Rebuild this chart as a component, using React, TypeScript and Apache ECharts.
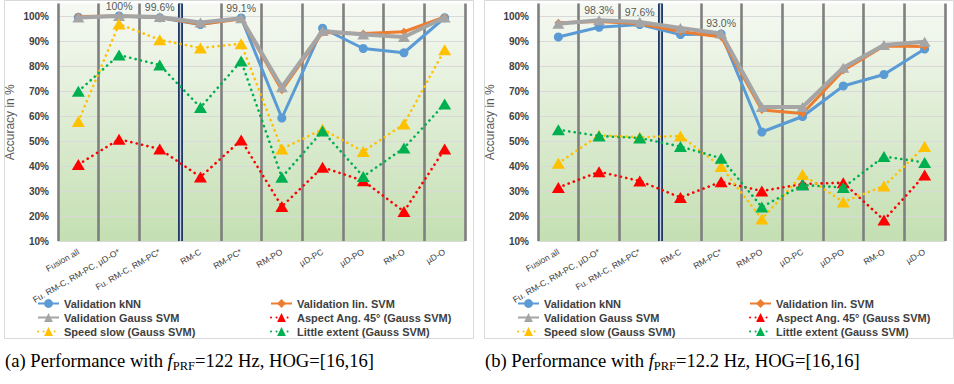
import React, { useEffect, useRef } from 'react';
import * as echarts from 'echarts';

const categories = ['Fusion all', 'Fu. RM-C, RM-PC, µD-O*', 'Fu. RM-C, RM-PC*', 'RM-C', 'RM-PC*', 'RM-PO', 'µD-PC', 'µD-PO', 'RM-O', 'µD-O'];
const yTicks = [10, 20, 30, 40, 50, 60, 70, 80, 90, 100];

const seriesNames = ['Validation kNN', 'Validation lin. SVM', 'Validation Gauss SVM', 'Aspect Ang. 45° (Gauss SVM)', 'Speed slow (Gauss SVM)', 'Little extent (Gauss SVM)'];

// Panel (a): f_PRF = 122 Hz
const knnA = [99.5, 100, 99.3, 96.6, 99.2, 59.2, 95.1, 87.0, 85.3, 99.3];
const linA = [99.8, 100, 99.5, 96.7, 98.8, 70.3, 93.4, 93.0, 93.7, 99.6];
const gaussA = [99.4, 100, 99.6, 97.4, 99.1, 71.5, 94.0, 92.6, 91.6, 99.4];
const aspectA = [40.6, 50.7, 46.8, 35.6, 50.4, 23.8, 39.5, 34.1, 21.8, 46.8];
const speedA = [57.8, 96.8, 90.5, 87.2, 88.9, 46.8, 54.7, 45.8, 56.8, 86.5];
const littleA = [69.9, 84.4, 80.4, 63.4, 82.0, 35.5, 54.0, 35.8, 47.2, 64.8];
const labelIdxA = [1, 2, 4];
const labelTextA = ['100%', '99.6%', '99.1%'];

// Panel (b): f_PRF = 12.2 Hz
const knnB = [91.6, 95.5, 96.6, 92.6, 92.8, 53.6, 59.8, 72.0, 76.6, 86.8];
const linB = [97.3, 97.8, 96.9, 93.8, 91.6, 62.4, 61.0, 78.2, 88.0, 87.8];
const gaussB = [96.9, 98.3, 97.6, 95.2, 93.0, 63.6, 63.6, 79.3, 88.4, 89.7];
const aspectB = [31.4, 37.7, 34.0, 27.4, 33.7, 30.0, 32.8, 33.3, 18.4, 36.4];
const speedB = [41.1, 52.3, 51.5, 52.0, 39.8, 18.8, 36.6, 25.6, 32.0, 47.8];
const littleB = [54.5, 52.0, 51.2, 47.8, 43.1, 23.6, 32.4, 31.4, 43.8, 41.4];
const labelIdxB = [1, 2, 4];
const labelTextB = ['98.3%', '97.6%', '93.0%'];

const captionA = ['(a) Performance with ', 'f', 'PRF', '=122 Hz, HOG=[16,16]'];
const captionB = ['(b) Performance with ', 'f', 'PRF', '=12.2 Hz, HOG=[16,16]'];

const FONT = 'Liberation Sans';

export default function App() {
  const ref = useRef<HTMLDivElement>(null);
  useEffect(() => {
    const chart = echarts.init(ref.current!, null, { renderer: 'svg' });

    const panels = [
      { left: 58, frameX: 4.5, legendL: 37, legendR: 270, data: [knnA, linA, gaussA, aspectA, speedA, littleA], lIdx: labelIdxA, lTxt: labelTextA, cap: captionA, capX: 5 },
      { left: 538, frameX: 484.5, legendL: 517, legendR: 749, data: [knnB, linB, gaussB, aspectB, speedB, littleB], lIdx: labelIdxB, lTxt: labelTextB, cap: captionB, capX: 485 },
    ];

    const grids: any[] = [];
    const xAxes: any[] = [];
    const yAxes: any[] = [];
    const series: any[] = [];
    const legends: any[] = [];
    const titles: any[] = [];
    const graphics: any[] = [];

    const colors = ['#5b9bd5', '#ed7d31', '#a5a5a5', '#ff0000', '#ffc000', '#00b050'];
    const grayLines = Array(11).fill('#7f7f7f');
    const navyColors = Array(11).fill('rgba(0,0,0,0)');
    navyColors[3] = '#1f3864';
    const innerColors = Array(11).fill('rgba(0,0,0,0)');
    innerColors[3] = '#c9d3e0';
    const hColors = Array(11).fill('#d9d9d9');
    hColors[10] = 'rgba(0,0,0,0)';

    const rich = {
      n: { fontFamily: 'Liberation Serif', fontSize: 18.6, fontWeight: 'normal', color: '#000', lineHeight: 24, verticalAlign: 'middle' },
      i: { fontFamily: 'Liberation Serif', fontSize: 18.6, fontWeight: 'normal', fontStyle: 'italic', color: '#000', lineHeight: 24, verticalAlign: 'middle' },
      s: { fontFamily: 'Liberation Serif', fontSize: 12.5, fontWeight: 'normal', color: '#000', lineHeight: 24, verticalAlign: 'bottom' },
    };

    panels.forEach((p, pi) => {
      grids.push({
        left: p.left, width: 407, top: 3.5, bottom: 143,
        show: true, borderWidth: 0,
        backgroundColor: new echarts.graphic.LinearGradient(0, 0, 0, 1, [
          { offset: 0, color: '#f6f9f3' },
          { offset: 1, color: '#c4dfb2' },
        ]),
        outerBoundsMode: 'none',
        containLabel: false,
      });
      xAxes.push({
        type: 'category', gridIndex: pi, data: categories, boundaryGap: true,
        axisLine: { show: true, lineStyle: { color: '#d9d9d9', width: 1 } },
        axisTick: { show: false },
        axisLabel: { interval: 0, rotate: 30, fontSize: 8.6, color: '#404040', margin: 10, fontFamily: FONT },
        splitLine: { show: true, lineStyle: { color: grayLines, width: 2.6 } },
      });
      xAxes.push({
        type: 'value', gridIndex: pi, min: 0, max: 10, interval: 1, position: 'top',
        axisLine: { show: false }, axisTick: { show: false }, axisLabel: { show: false },
        splitLine: { show: true, lineStyle: { color: navyColors, width: 5 } },
      });
      xAxes.push({
        type: 'value', gridIndex: pi, min: 0, max: 10, interval: 1, position: 'top',
        axisLine: { show: false }, axisTick: { show: false }, axisLabel: { show: false },
        splitLine: { show: true, lineStyle: { color: innerColors, width: 1.4 } },
      });
      yAxes.push({
        type: 'value', gridIndex: pi, min: yTicks[0], max: 105, interval: 10,
        name: 'Accuracy in %', nameLocation: 'middle', nameGap: 42,
        nameTextStyle: { fontSize: 12, color: '#595959', fontFamily: FONT },
        axisLine: { show: false }, axisTick: { show: false },
        axisLabel: {
          fontSize: 10, fontWeight: 'bold', color: '#404040', margin: 9, fontFamily: FONT,
          formatter: (v: number) => (yTicks.includes(v) ? v + '%' : ''),
        },
        splitLine: { show: true, lineStyle: { color: hColors, width: 1 } },
      });

      p.data.forEach((vals, si) => {
        const common: any = {
          type: 'line', name: seriesNames[si], xAxisIndex: pi * 3, yAxisIndex: pi,
          color: colors[si],
          itemStyle: { color: colors[si] },
          showSymbol: true,
          z: 2 + si,
        };
        if (si === 0) {
          Object.assign(common, { symbol: 'circle', symbolSize: 9, lineStyle: { width: 3, color: colors[si] } });
        } else if (si === 1) {
          Object.assign(common, { symbol: 'diamond', symbolSize: 8, lineStyle: { width: 3, color: colors[si] } });
        } else if (si === 2) {
          Object.assign(common, { symbol: 'triangle', symbolSize: [12, 10], lineStyle: { width: 4, color: colors[si] } });
        } else {
          Object.assign(common, { symbol: 'triangle', symbolSize: [13, 11], lineStyle: { width: 2.6, color: colors[si], type: [0.1, 5.4], cap: 'round' } });
        }
        let data: any[] = vals;
        if (si === 2) {
          data = vals.map((v, i) => {
            const k = p.lIdx.indexOf(i);
            if (k < 0) return v;
            return {
              value: v,
              label: {
                show: true, position: 'top', distance: 0, formatter: p.lTxt[k],
                fontSize: 10.5, lineHeight: 11, color: '#595959', fontFamily: FONT,
              },
            };
          });
        }
        series.push({ ...common, data });
      });

      const legendCommon = {
        orient: 'vertical', top: 298, itemWidth: 21, itemHeight: 11, itemGap: 3,
        padding: 0,
        textStyle: { fontSize: 11, fontWeight: 'bold', color: '#404040', fontFamily: FONT },
      };
      legends.push({ ...legendCommon, left: p.legendL, data: [seriesNames[0], seriesNames[2], seriesNames[4]] });
      legends.push({ ...legendCommon, left: p.legendR, data: [seriesNames[1], seriesNames[3], seriesNames[5]] });

      titles.push({
        left: p.capX, top: 348, padding: 0,
        text: `{n|${p.cap[0]}}{i|${p.cap[1]}}{s|${p.cap[2]}}{n|${p.cap[3]}}`,
        textStyle: { fontWeight: 'normal', rich },
      });

      graphics.push({
        type: 'rect', z: -10, silent: true,
        shape: { x: p.frameX, y: 0.5, width: 469, height: 338 },
        style: { fill: '#ffffff', stroke: '#d9d9d9', lineWidth: 1 },
      });
    });

    chart.setOption({
      animation: false,
      backgroundColor: '#ffffff',
      textStyle: { fontFamily: FONT },
      title: titles,
      grid: grids,
      xAxis: xAxes,
      yAxis: yAxes,
      legend: legends,
      series,
      graphic: graphics,
    });
    return () => chart.dispose();
  }, []);
  return <div ref={ref} style={{ position: 'absolute', left: 0, top: 0, width: 954, height: 384 }} />;
}
